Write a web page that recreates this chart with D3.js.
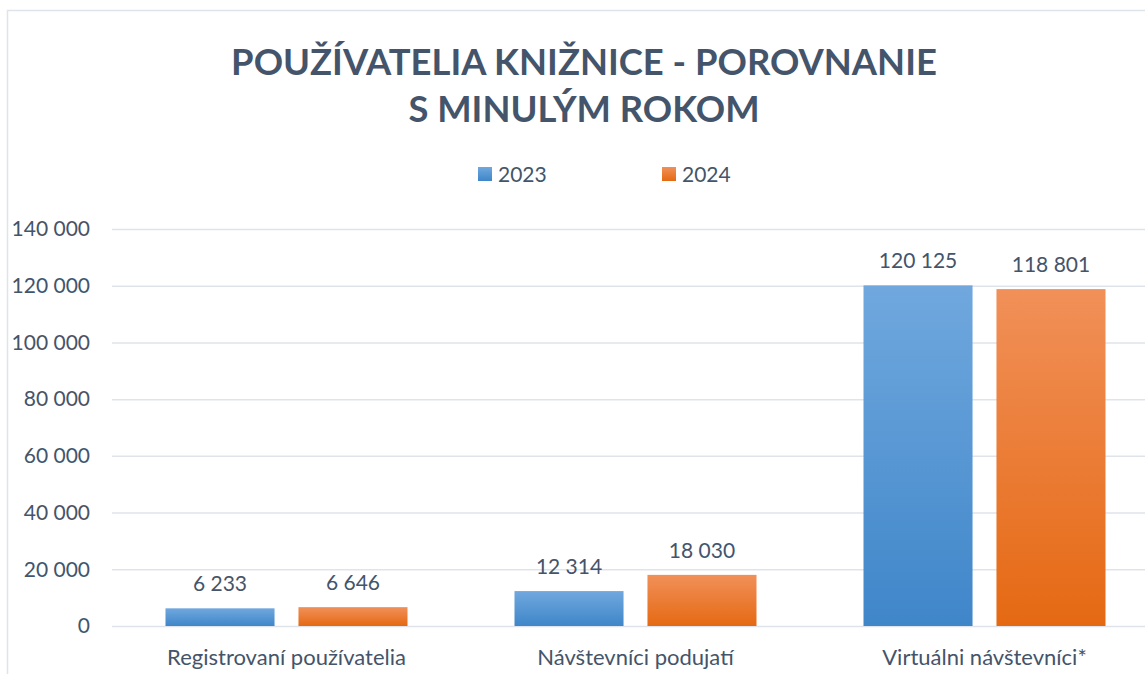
<!DOCTYPE html>
<html>
<head>
<meta charset="utf-8">
<script src="https://cdn.jsdelivr.net/npm/d3@7"></script>
<style>
  body { margin: 0; background: #fff; }
  svg { display: block; font-family: Lato, "Open Sans", sans-serif; }
</style>
</head>
<body>
<div id="chart"></div>
<script>
const categories = ["Registrovaní používatelia", "Návštevníci podujatí", "Virtuálni návštevníci*"];
const seriesNames = ["2023", "2024"];
const values2023 = [6233, 12314, 120125];
const values2024 = [6646, 18030, 118801];
const yTicks = [0, 20000, 40000, 60000, 80000, 100000, 120000, 140000];
const titleLines = ["POUŽÍVATELIA KNIŽNICE - POROVNANIE", "S MINULÝM ROKOM"];

const W = 1145, H = 674;
const margin = { top: 229, left: 112, bottom: 48 };
const plotW = 349 * 3;
const textColor = "#44546a";

const fmt = v => d3.format(",")(v).replace(/,/g, " ");

const svg = d3.select("#chart").append("svg")
    .attr("width", W)
    .attr("height", H);

const defs = svg.append("defs");
const gradients = [
    { id: "grad2023", top: "#70a8de", bottom: "#3f86c9" },
    { id: "grad2024", top: "#f19059", bottom: "#e56913" }
];
gradients.forEach(g => {
    const lg = defs.append("linearGradient")
        .attr("id", g.id)
        .attr("x1", 0).attr("y1", 0).attr("x2", 0).attr("y2", 1);
    lg.append("stop").attr("offset", "0%").attr("stop-color", g.top);
    lg.append("stop").attr("offset", "100%").attr("stop-color", g.bottom);
});

// chart border
svg.append("rect")
    .attr("x", 7.5).attr("y", 10.5)
    .attr("width", W + 20).attr("height", H + 20)
    .attr("fill", "none")
    .attr("stroke", "#dfe3ea")
    .attr("stroke-width", 1.5);

// title
svg.append("text")
    .attr("x", 584)
    .attr("text-anchor", "middle")
    .attr("fill", textColor)
    .attr("font-weight", "bold")
    .attr("font-size", 36.4)
    .selectAll("tspan")
    .data(titleLines)
    .join("tspan")
    .attr("x", 584)
    .attr("y", (d, i) => 75 + i * 47)
    .text(d => d);

const y = d3.scaleLinear()
    .domain([0, 140000])
    .range([626, margin.top]);

const x0 = d3.scaleBand()
    .domain(categories)
    .range([margin.left, margin.left + plotW])
    .paddingInner(0)
    .paddingOuter(0);

const x1 = d3.scaleBand()
    .domain(seriesNames)
    .range([53.5, 349 - 53.5])
    .paddingInner(0.18);

// gridlines
svg.append("g")
    .selectAll("line")
    .data(yTicks)
    .join("line")
    .attr("x1", margin.left)
    .attr("x2", W)
    .attr("y1", d => y(d) + 0.5)
    .attr("y2", d => y(d) + 0.5)
    .attr("stroke", "#dfe3ea")
    .attr("stroke-width", 1.5);

// y axis labels
const yAxis = d3.axisLeft(y)
    .tickValues(yTicks)
    .tickFormat(fmt)
    .tickSize(0)
    .tickPadding(22);

svg.append("g")
    .attr("transform", `translate(${margin.left},0)`)
    .call(yAxis)
    .call(g => g.select(".domain").remove())
    .selectAll("text")
    .attr("font-family", "Lato, 'Open Sans', sans-serif")
    .attr("font-size", 21)
    .attr("fill", textColor);

// bars
const rows = categories.map((c, i) => ({
    category: c,
    values: [
        { series: "2023", value: values2023[i] },
        { series: "2024", value: values2024[i] }
    ]
}));

const groups = svg.append("g")
    .selectAll("g")
    .data(rows)
    .join("g")
    .attr("transform", d => `translate(${x0(d.category)},0)`);

groups.selectAll("rect")
    .data(d => d.values)
    .join("rect")
    .attr("x", d => x1(d.series))
    .attr("y", d => y(d.value))
    .attr("width", x1.bandwidth())
    .attr("height", d => y(0) - y(d.value))
    .attr("fill", d => `url(#grad${d.series})`);

groups.selectAll("text")
    .data(d => d.values)
    .join("text")
    .attr("x", d => x1(d.series) + x1.bandwidth() / 2)
    .attr("y", d => y(d.value) - 17)
    .attr("text-anchor", "middle")
    .attr("font-size", 21)
    .attr("fill", textColor)
    .text(d => fmt(d.value));

// category labels
svg.append("g")
    .selectAll("text")
    .data(categories)
    .join("text")
    .attr("x", d => x0(d) + x0.bandwidth() / 2)
    .attr("y", 665)
    .attr("text-anchor", "middle")
    .attr("font-size", 22)
    .attr("fill", textColor)
    .text(d => d);

// legend
const legendX = [478, 662];
const legend = svg.append("g")
    .selectAll("g")
    .data(seriesNames)
    .join("g")
    .attr("transform", (d, i) => `translate(${legendX[i]},167)`);

legend.append("rect")
    .attr("width", 14)
    .attr("height", 14)
    .attr("fill", d => `url(#grad${d})`);

legend.append("text")
    .attr("x", 20)
    .attr("y", 15)
    .attr("font-size", 21)
    .attr("fill", textColor)
    .text(d => d);
</script>
</body>
</html>
